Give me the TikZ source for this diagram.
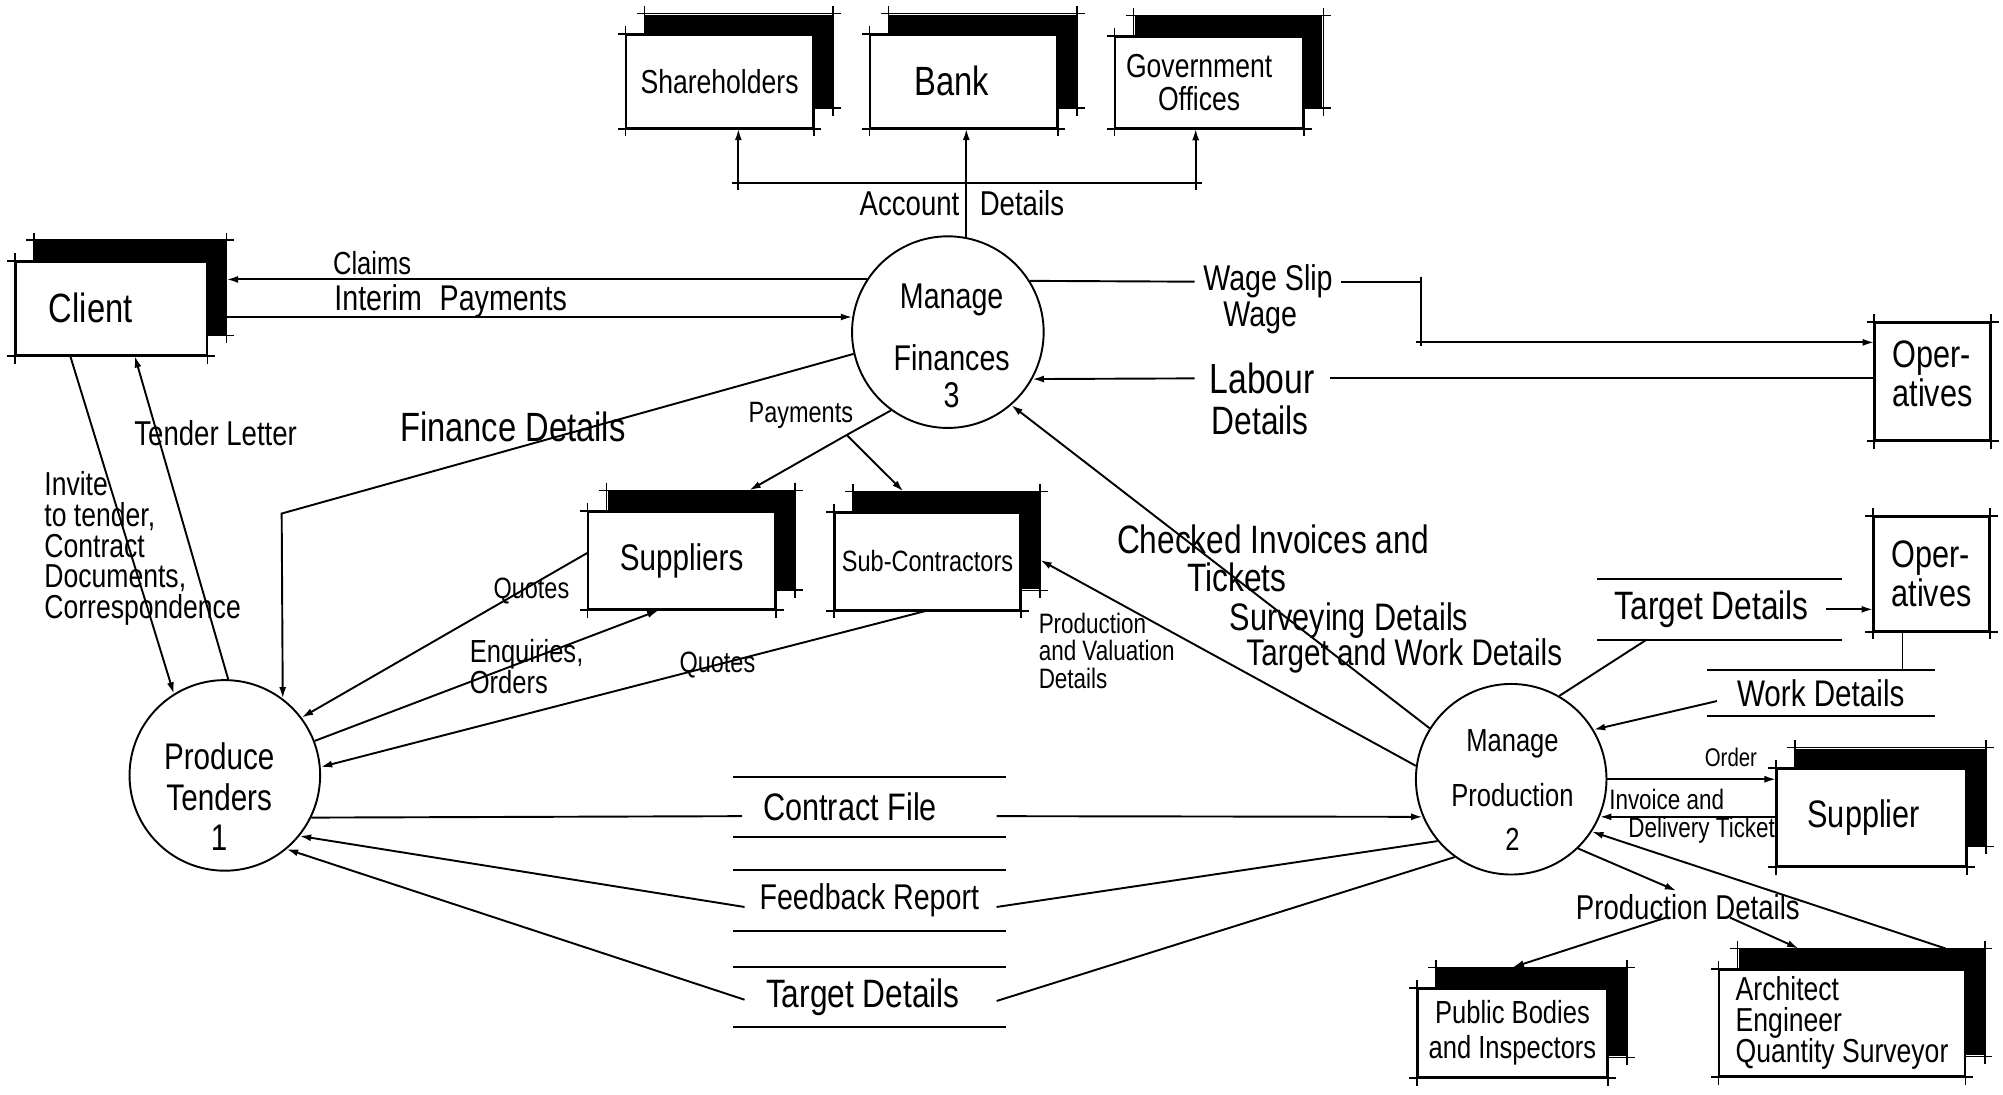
\documentclass[tikz,border=0pt]{standalone}
\usepackage{fontspec}
\setmainfont{Liberation Sans}[FakeStretch=0.8]
\usetikzlibrary{arrows.meta,shadows}
\begin{document}
\begin{tikzpicture}[x=1pt,y=-1pt,line width=1.5pt,
  fs/.style 2 args={font=\fontsize{#1}{#2}\selectfont},
  lbl/.style={inner sep=0pt},
  flow/.style={-{Latex[length=9pt,width=5.5pt]}},
  tick/.style={line width=1.3pt},
  entity/.style={draw, fill=white, inner sep=0pt, align=center,
    general shadow={fill=black, shadow xshift=15pt, shadow yshift=16pt}},
  extent/.style={draw, inner sep=0pt, align=left},
  proc/.style={draw, circle, inner sep=0pt},
  store/.style={inner sep=0pt},
]
\fill[white] (0,0) rectangle (1568,857);
\useasboundingbox (0,0) rectangle (1568,857);

% ---------- external entities ----------
\node[entity, minimum width=146pt, minimum height=72.6pt, fs={26}{30}] (sh) at (563.3,63.7) {Shareholders};
\node[entity, minimum width=146pt, minimum height=72.6pt, fs={32}{36}] (bank) at (754.3,63.7) {\hspace*{-18pt}Bank};
\node[entity, minimum width=147pt, minimum height=71.3pt, fs={26}{26}] (gov) at (946.7,64.4) {\hspace*{-16pt}Government\\\hspace*{-16pt}Offices};
\node[entity, minimum width=149.3pt, minimum height=73.1pt, fs={32}{36}] (client) at (87,241.4) {\hspace*{-32pt}Client};
\node[entity, minimum width=146pt, minimum height=76.4pt, fs={29}{33}] (supps) at (533.6,438.8) {Suppliers};
\node[entity, minimum width=145pt, minimum height=76pt, fs={23}{27}] (subc) at (726.1,439.4) {Sub-Contractors};
\node[entity, minimum width=148pt, minimum height=76pt, fs={30}{34}] (supp) at (1465,640) {\hspace*{-12pt}Supplier};
\node[entity, minimum width=148pt, minimum height=69pt, fs={25}{28}] (pub) at (1184,808.5) {Public Bodies\\and Inspectors};
\node[entity, minimum width=192pt, minimum height=83pt, fs={26}{24.5}, align=left] (arch) at (1442,800.75) {Architect\\Engineer\\Quantity Surveyor};
\node[extent, minimum width=90pt, minimum height=92pt, text depth=12pt, fs={30}{30}] (op1) at (1512.9,298.6) {Oper-\\atives};
\node[extent, minimum width=90pt, minimum height=89pt, fs={30}{30}] (op2) at (1512,449.3) {Oper-\\atives};

% ---------- processes ----------
\node[proc, minimum size=150pt] (F) at (742,260) {};
\node[lbl, align=center, fs={28}{32}] (Ftxt) at (745,270.8) {Manage\\[16pt]Finances\\[-3pt]3};
\node[proc, minimum size=149.2pt] (PT) at (176,607) {};
\node[lbl, align=center, fs={29}{31.4}] (PTtxt) at (171.6,623.6) {Produce\\Tenders\\1};
\node[proc, minimum size=149.2pt] (MP) at (1183,610) {};
\node[lbl, align=center, fs={25}{35}] (MPtxt) at (1184,618.5) {Manage\\[8pt]Production\\2};

% ---------- data stores ----------
\node[store, minimum width=211.8pt, minimum height=45.2pt, fs={30}{34}] (cfile) at (680.5,631.9) {\hspace*{-30pt}Contract File};
\node[store, minimum width=211.8pt, minimum height=46.1pt, fs={28}{32}] (fback) at (680.5,705) {Feedback Report};
\node[store, minimum width=211.8pt, minimum height=45.2pt, fs={31}{35}] (tdet) at (680.5,780.6) {\hspace*{-10pt}Target Details};
\node[store, minimum width=190pt, minimum height=46pt, fs={31}{35}] (tdet2) at (1346,477) {\hspace*{-12pt}Target Details};
\node[store, minimum width=177pt, minimum height=34.5pt, fs={29}{33}] (wdet) at (1425.3,542.8) {Work Details};
\foreach \n in {cfile,fback,tdet,tdet2,wdet}
  \draw (\n.north west) -- (\n.north east) (\n.south west) -- (\n.south east);

% ---------- corner ticks of the boxes ----------
\foreach \n in {sh,bank,gov,client,supps,subc,supp,pub,arch,op1,op2}
  \draw[tick] ([xshift=-6pt]\n.north west) -- ([xshift=6pt]\n.north east)
              ([xshift=-6pt]\n.south west) -- ([xshift=6pt]\n.south east)
              ([yshift=6pt]\n.north west) -- ([yshift=-6pt]\n.south west)
              ([yshift=6pt]\n.north east) -- ([yshift=-6pt]\n.south east);
\foreach \n in {sh,bank,gov,client,supps,subc,supp,pub,arch}
  \draw[tick] ([shift={(9pt,16pt)}]\n.north west) -- ([shift={(21pt,16pt)}]\n.north east)
              ([shift={(15pt,22pt)}]\n.north west) -- ([shift={(15pt,0pt)}]\n.north west)
              ([shift={(15pt,22pt)}]\n.north east) -- ([shift={(15pt,10pt)}]\n.south east)
              ([shift={(0pt,16pt)}]\n.south east) -- ([shift={(21pt,16pt)}]\n.south east);

% ---------- flow labels ----------
\node[lbl, fs={27}{30}] (acclbl) at (753,159.2) {Account\hspace{16pt}Details};
\node[lbl, fs={25}{28}] (claimslbl) at (291.3,206) {Claims};
\node[lbl, fs={28}{30}] (interimlbl) at (352.8,236) {Interim\hspace{14pt}Payments};
\node[lbl, fs={27}{30}] (tenderlbl) at (168.8,339.2) {Tender Letter};
\node[lbl, fs={32}{34}] (financelbl) at (401.5,334) {Finance Details};
\node[lbl, anchor=west, align=left, fs={26}{24}] (invitelbl) at (34,429.5) {Invite\\to tender,\\Contract\\Documents,\\Correspondence};
\node[lbl, fs={23}{26}] (paylbl) at (626.9,324.9) {Payments};
\node[lbl, fs={23}{26}] (quotes1) at (416,463) {Quotes};
\node[lbl, anchor=west, align=left, fs={25}{21}] (enqlbl) at (367,521.5) {Enquiries,\\Orders};
\node[lbl, fs={23}{26}] (quotes2) at (561.6,520.6) {Quotes};
\node[lbl, anchor=west, align=left, fs={22}{21.5}] (pvlbl) at (812.4,509.5) {Production\\and Valuation\\Details};
\node[lbl, anchor=west, align=left, fs={31}{29.5}] (checklbl) at (873.7,437) {Checked Invoices and\\\hspace*{55pt}Tickets};
\node[lbl, fs={30}{32}] (survlbl) at (1056,486) {Surveying Details};
\node[lbl, fs={29}{32}] (twlbl) at (1099.3,513.5) {Target and Work Details};
\node[lbl, inner xsep=6pt, fs={28}{30}] (wslip) at (992.6,220.5) {Wage Slip};
\node[lbl, fs={28}{30}] (wage) at (986.5,249.2) {Wage};
\node[lbl, inner xsep=11pt, fs={33}{35}] (lab) at (988,296.2) {Labour};
\node[lbl, fs={31}{33}] (labdet) at (986.6,328.8) {Details};
\node[lbl, fs={20}{22}] (order) at (1355,593.2) {Order};
\node[lbl, anchor=west, align=left, fs={22}{21.5}] (invlbl) at (1259,639) {Invoice and\\\hspace*{15pt}Delivery Ticket};
\node[lbl, fs={27}{30}] (pd) at (1321.3,710.3) {Production Details};

% ---------- connectors ----------
% Manage Finances -> Shareholders, Bank, Government Offices
\coordinate (busL) at (578,143.5);
\coordinate (busR) at (936,143.5);
\draw[flow] (F.79) -- (F.79 |- bank.south);
\draw ([xshift=-5pt]busL) -- ([xshift=5pt]busR);
\draw[flow] ([yshift=-5pt]busL) -- (busL |- sh.south);
\draw[flow] ([yshift=-5pt]busR) -- (busR |- gov.south);

% Manage Finances <-> Client
\coordinate (clR) at ([xshift=15pt]client.east);
\draw[flow] (F.147) -- (F.147 -| clR);
\draw[flow] (F.171 -| clR) -- (F.171);

% Finance details to Produce Tenders
\coordinate (fdc) at (220.5,402);
\draw[flow] (F.193) -- (fdc) -- (PT.53);

% Client <-> Produce Tenders
\draw[flow] (PT.88) -- ([xshift=18.5pt]client.south);
\draw[flow] ([xshift=-32pt]client.south) -- (PT.122);

% Payments
\coordinate (payB) at (662.8,340.5);
\draw (F.234) -- (payB);
\draw[flow] (payB) -- ([shift={(53pt,16pt)}]supps.north);
\draw[flow] (payB) -- ([shift={(-19pt,16pt)}]subc.north);

% Suppliers / Sub-Contractors <-> Produce Tenders
\draw[flow] ([yshift=6pt]supps.west) -- (PT.37);
\draw[flow] (PT.21) -- ([xshift=-18pt]supps.south);
\draw[flow] ([xshift=-1pt]subc.south) -- (PT.5);

% Data stores between Produce Tenders and Manage Production
\draw (PT.334) -- ([shift={(7pt,-7pt)}]cfile.west);
\draw[flow] ([shift={(-7pt,-7pt)}]cfile.east) -- (MP.203);
\draw (MP.220) -- ([shift={(-7pt,-5pt)}]fback.east);
\draw[flow] ([shift={(9pt,-5pt)}]fback.west) -- (PT.321);
\draw (MP.234) -- ([shift={(-7pt,-3pt)}]tdet.east);
\draw[flow] ([shift={(9pt,-2pt)}]tdet.west) -- (PT.310);

% Manage Production -> Manage Finances, Sub-Contractors
\draw[flow] (MP.148) -- (F.311);
\draw[flow] (MP.172) -- ([shift={(15pt,1pt)}]subc.east);

% Wages and labour
\coordinate (wj) at (1112.7,220.5);
\coordinate (wj2) at (1112.7,268);
\draw (F.32) -- (wslip.west);
\draw (wslip.east) -- (wj);
\draw ([yshift=4pt]wj) -- ([yshift=-3pt]wj2);
\draw[flow] ([xshift=-4pt]wj2) -- (wj2 -| op1.west);
\draw (op1.west |- lab.east) -- (lab.east);
\draw[flow] (lab.west) -- (F.331);

% Operatives
\draw (MP.60) -- ([xshift=-57pt]tdet2.south);
\draw[flow] ([xshift=-12pt]tdet2.east) -- (tdet2.east -| op2.west);
\coordinate (wv) at ([xshift=64pt]wdet.north);
\draw (wv) -- (wv |- op2.south);
\draw[flow] ([shift={(8pt,-6pt)}]wdet.west) -- (MP.31);

% Supplier
\draw[flow] (MP.east) -- (MP.east -| supp.west);
\draw[flow] (MP.337 -| supp.west) -- (MP.337);

% Production details
\draw[flow] (MP.314) -- ([shift={(-9pt,13pt)}]pd.center);
\draw[flow] ([shift={(-17pt,-8pt)}]pd.center) -- ([yshift=16pt]pub.north);
\draw[flow] ([shift={(33pt,-8pt)}]pd.center) -- ([shift={(-34pt,16pt)}]arch.north);
\draw[flow] ([shift={(81pt,16pt)}]arch.north) -- (MP.327);
\end{tikzpicture}
\end{document}
